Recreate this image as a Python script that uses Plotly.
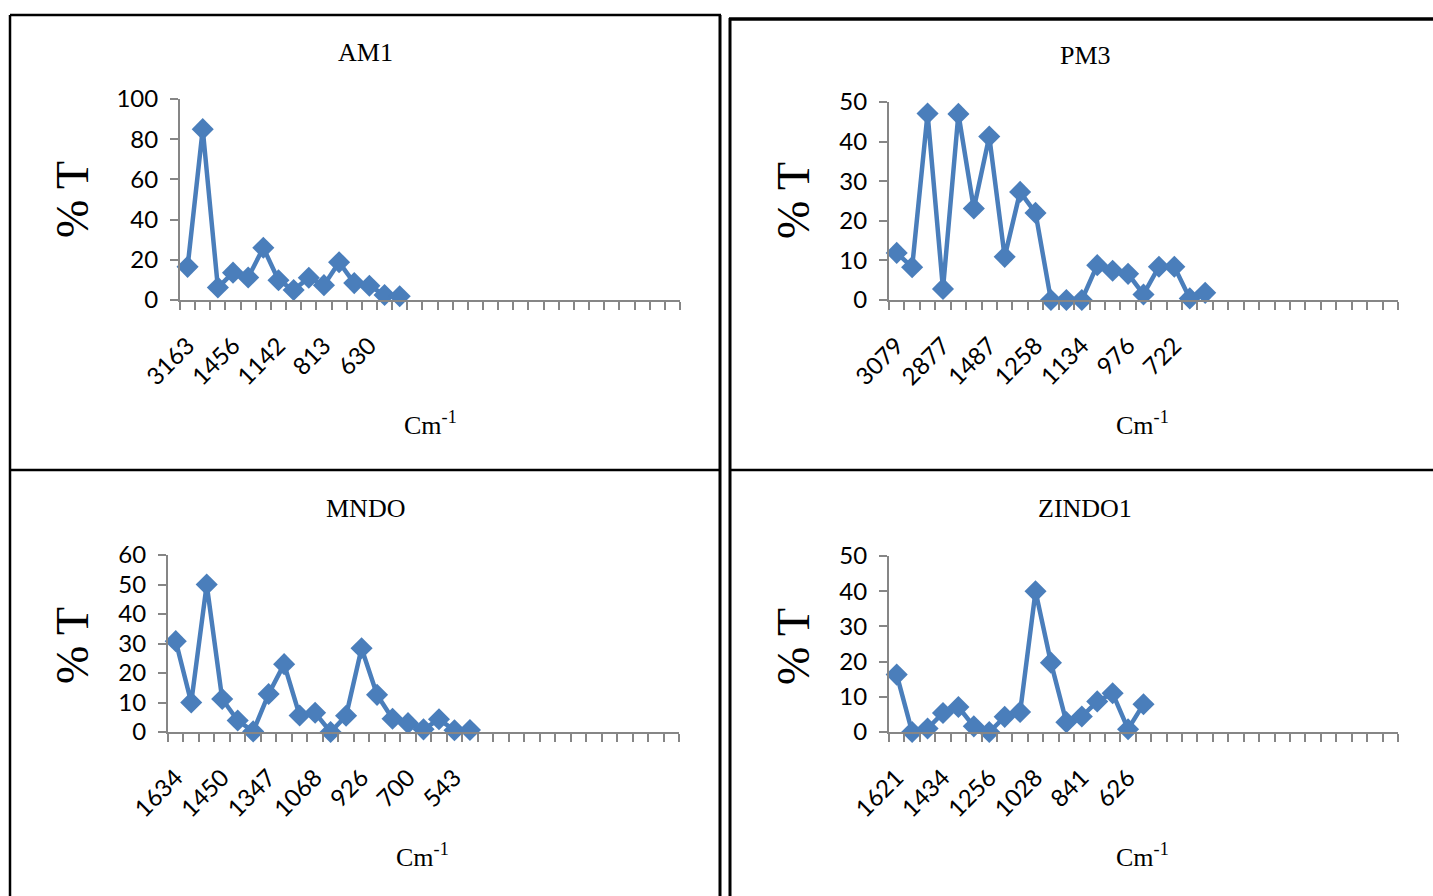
import plotly.graph_objects as go

W, H = 1433, 896
N_CATS = 33

am1_labels = ["3163", "1456", "1142", "813", "630"]
am1_values = [16.5, 85, 6.2, 13.6, 11.2, 26, 9.8, 5, 11.1, 7.4, 18.8, 8.4, 7.1, 2.5, 1.9]

pm3_labels = ["3079", "2877", "1487", "1258", "1134", "976", "722"]
pm3_values = [11.9, 8.3, 47.1, 2.8, 47, 23.1, 41.3, 10.9, 27.3, 22, 0, 0, 0,
              8.8, 7.4, 6.6, 1.4, 8.4, 8.4, 0.4, 1.8]

mndo_labels = ["1634", "1450", "1347", "1068", "926", "700", "543"]
mndo_values = [30.8, 10, 50, 11.2, 3.9, 0.2, 12.9, 23, 5.6, 6.5, 0, 5.5, 28.4,
               12.6, 4.5, 3, 0.9, 4.3, 0.6, 0.7]

zindo_labels = ["1621", "1434", "1256", "1028", "841", "626"]
zindo_values = [16.3, 0, 1, 5.4, 7.1, 1.6, 0, 4.3, 5.7, 40, 19.7, 2.8, 4.4,
                8.7, 11, 0.8, 7.9]

panels = [
    ("AM1", am1_labels, am1_values, 100, 20, (180, 680, 99, 300), (365, 52), (72, 200), (430, 423)),
    ("PM3", pm3_labels, pm3_values, 50, 10, (889, 1398, 102, 300), (1085, 55), (793, 200), (1142, 423)),
    ("MNDO", mndo_labels, mndo_values, 60, 10, (168, 679, 555, 732), (365, 508), (72, 646), (422, 855)),
    ("ZINDO1", zindo_labels, zindo_values, 50, 10, (889, 1398, 556, 732), (1085, 508), (793, 646), (1142, 855)),
]

BLUE = "#4a7ebb"
AXC = "#868686"
TICKFONT = dict(family="Lato", size=24, color="#000000")
SERIF = "Liberation Serif"

fig = go.Figure()
layout = dict(
    width=W, height=H,
    margin=dict(l=0, r=0, t=0, b=0, pad=0, autoexpand=False),
    paper_bgcolor="white", plot_bgcolor="white",
    showlegend=False,
)
annotations = []
for i, (title, labels, values, ymax, dtick, box, tpos, ppos, cpos) in enumerate(panels):
    k = "" if i == 0 else str(i + 1)
    x0, x1, yt, yb = box
    xs = list(range(1, len(values) + 1))
    fig.add_trace(go.Scatter(
        x=xs, y=values, mode="lines+markers",
        line=dict(color=BLUE, width=4.5),
        marker=dict(symbol="diamond", size=17, color=BLUE),
        cliponaxis=False,
        xaxis="x" + k, yaxis="y" + k,
    ))
    layout["xaxis" + k] = dict(
        domain=[x0 / W, x1 / W], anchor="y" + k,
        range=[0.5, N_CATS + 0.5], automargin=False,
        tickmode="array",
        tickvals=[1 + 3 * j for j in range(len(labels))],
        ticktext=labels,
        tickangle=-45, tickfont=TICKFONT,
        ticks="", ticklabelstandoff=20,
        showline=True, linecolor=AXC, linewidth=2,
        showgrid=False, zeroline=False,
        minor=dict(tickmode="array", tickvals=[0.5 + j for j in range(N_CATS + 1)],
                   ticks="outside", ticklen=8, tickcolor=AXC, tickwidth=1.5, showgrid=False),
    )
    layout["yaxis" + k] = dict(
        domain=[1 - yb / H, 1 - yt / H], anchor="x" + k,
        range=[0, ymax], dtick=dtick, tickmode="linear", tick0=0, automargin=False,
        ticks="outside", ticklen=8, tickcolor=AXC, tickwidth=1.5,
        tickfont=TICKFONT, ticklabelstandoff=7,
        showline=True, linecolor=AXC, linewidth=2,
        showgrid=False, zeroline=False,
    )
    annotations.append(dict(text=title, x=tpos[0] / W, y=1 - tpos[1] / H, xref="paper", yref="paper",
                            showarrow=False, font=dict(family=SERIF, size=26, color="black"),
                            xanchor="center", yanchor="middle"))
    annotations.append(dict(text="% T", x=ppos[0] / W, y=1 - ppos[1] / H, xref="paper", yref="paper",
                            showarrow=False, textangle=-90,
                            font=dict(family=SERIF, size=46, color="black"),
                            xanchor="center", yanchor="middle"))
    annotations.append(dict(text="Cm<sup>-1</sup>", x=cpos[0] / W, y=1 - cpos[1] / H, xref="paper", yref="paper",
                            showarrow=False, font=dict(family=SERIF, size=26, color="black"),
                            xanchor="center", yanchor="middle"))

layout["annotations"] = annotations


def hline(x0, x1, y, w=2.5):
    return dict(type="line", xref="paper", yref="paper", x0=x0 / W, x1=x1 / W,
                y0=1 - y / H, y1=1 - y / H, line=dict(color="black", width=w))


def vline(x, y0, y1, w=2.5):
    return dict(type="line", xref="paper", yref="paper", x0=x / W, x1=x / W,
                y0=1 - y0 / H, y1=1 - y1 / H, line=dict(color="black", width=w))


layout["shapes"] = [
    hline(10, 721, 15),
    hline(729, 1433, 19, 3.5),
    hline(10, 721, 470),
    hline(729, 1433, 470),
    vline(10, 15, 896),
    vline(720, 15, 896, 3),
    vline(730, 18, 896, 3),
]

fig.update_layout(**layout)
fig.write_html("out.html")
